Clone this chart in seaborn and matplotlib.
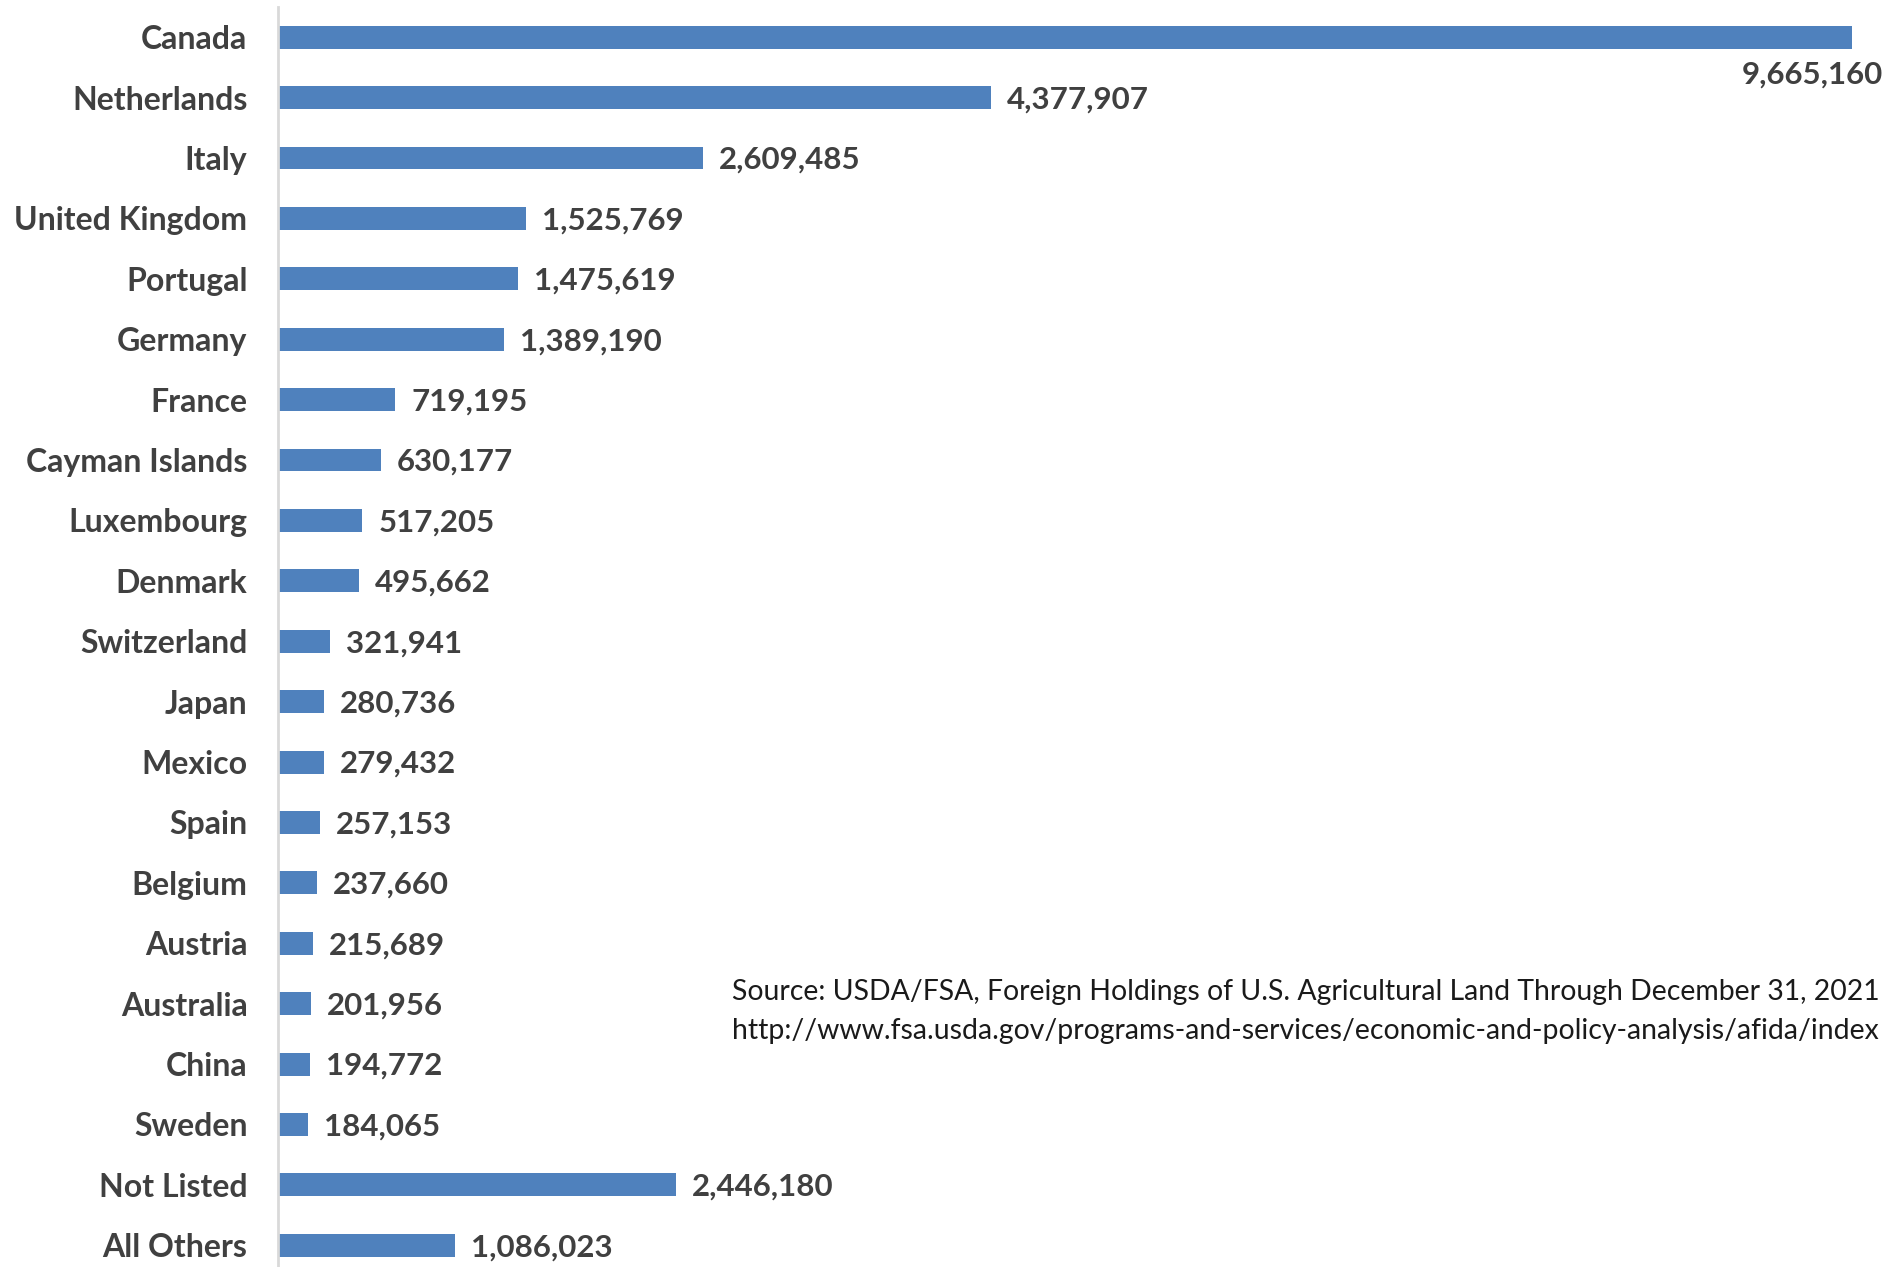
import matplotlib
matplotlib.use("Agg")
import matplotlib.pyplot as plt
import seaborn as sns
import pandas as pd

countries = ["Canada", "Netherlands", "Italy", "United Kingdom", "Portugal",
             "Germany", "France", "Cayman Islands", "Luxembourg", "Denmark",
             "Switzerland", "Japan", "Mexico", "Spain", "Belgium", "Austria",
             "Australia", "China", "Sweden", "Not Listed", "All Others"]
acres = [9665160, 4377907, 2609485, 1525769, 1475619, 1389190, 719195,
         630177, 517205, 495662, 321941, 280736, 279432, 257153, 237660,
         215689, 201956, 194772, 184065, 2446180, 1086023]
source_lines = [
    "Source: USDA/FSA, Foreign Holdings of U.S. Agricultural Land Through December 31, 2021",
    "http://www.fsa.usda.gov/programs-and-services/economic-and-policy-analysis/afida/index",
]

df = pd.DataFrame({"country": countries, "acres": acres})

sns.set_theme(style="white")
plt.rcParams["font.family"] = ["Lato", "DejaVu Sans"]

W, H, DPI = 1895, 1267, 100
fig = plt.figure(figsize=(W / DPI, H / DPI), dpi=DPI)
ax = fig.add_axes([278 / W, 0.0, (1852 - 278) / W, 1 - 7 / H])

bar_color = "#4F81BD"
text_color = "#404040"

sns.barplot(data=df, x="acres", y="country", orient="h", color=bar_color,
            width=0.38, saturation=1, ax=ax, edgecolor="none")

ax.set_xlim(0, max(acres))
ax.set_ylim(20.36, -0.5)
ax.set_xlabel("")
ax.set_ylabel("")
ax.set_xticks([])
ax.tick_params(axis="y", length=0, pad=22)
for lbl in ax.get_yticklabels():
    lbl.set_fontsize(23)
    lbl.set_fontweight("bold")
    lbl.set_color(text_color)

for side in ["top", "right", "bottom"]:
    ax.spines[side].set_visible(False)
ax.spines["left"].set_color("#d9d9d9")
ax.spines["left"].set_linewidth(2)

for i, v in enumerate(acres):
    label = f"{v:,}"
    if v == max(acres):
        ax.annotate(label, xy=(v, i), xytext=(31, -37), textcoords="offset pixels",
                    ha="right", va="center", fontsize=22.5, fontweight="bold",
                    color=text_color, annotation_clip=False)
    else:
        ax.annotate(label, xy=(v, i), xytext=(16, -2), textcoords="offset pixels",
                    ha="left", va="center", fontsize=22.5, fontweight="bold",
                    color=text_color, annotation_clip=False)

fig.text(732 / W, 1 - 992 / H, source_lines[0], ha="left", va="center",
         fontsize=20.4, color="#1a1a1a")
fig.text(732 / W, 1 - 1031 / H, source_lines[1], ha="left", va="center",
         fontsize=20.4, color="#1a1a1a")

fig.savefig("out.png", dpi=DPI)
